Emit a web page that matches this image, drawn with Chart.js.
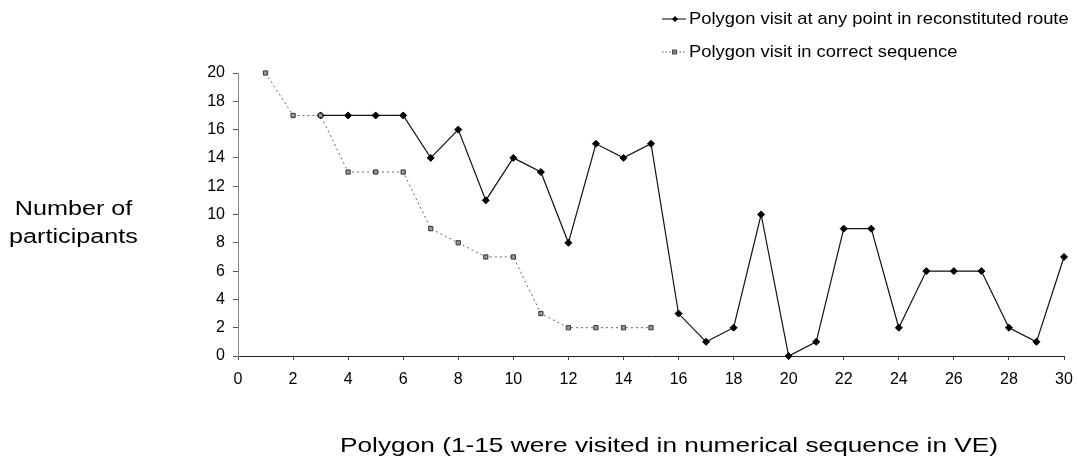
<!DOCTYPE html>
<html><head><meta charset="utf-8">
<script src="https://cdn.jsdelivr.net/npm/chart.js@4.4.1/dist/chart.umd.min.js"></script>
<style>
html,body{margin:0;padding:0;background:#fff;}
#wrap{position:relative;width:1078px;height:466px;font-family:"Liberation Sans",Arial,sans-serif;color:#000;overflow:hidden;}
canvas{position:absolute;left:0;top:0;}
.lbl{position:absolute;white-space:nowrap;transform-origin:0 0;}
.leg{position:absolute;font-size:17px;display:flex;align-items:center;white-space:nowrap;height:20px;}
.leg span{display:inline-block;transform:scaleX(1.08);transform-origin:0 50%;}
</style></head><body>
<div id="wrap">
<canvas id="c" width="1078" height="466"></canvas>
<div class="lbl" style="left:8px;top:194px;width:104px;font-size:20px;line-height:28px;text-align:center;transform:scaleX(1.26);">Number of<br>participants</div>
<div class="lbl" style="left:340px;top:433px;font-size:21px;line-height:24px;transform:scaleX(1.25);">Polygon (1-15 were visited in numerical sequence in VE)</div>
<div class="leg" style="left:662px;top:9px;"><svg width="24" height="20"><line x1="0" y1="10" x2="24" y2="10" stroke="#000" stroke-width="1"/><polygon points="13,7 16,10 13,13 10,10" fill="#000"/></svg><span style="margin-left:3px">Polygon visit at any point in reconstituted route</span></div>
<div class="leg" style="left:662px;top:42px;"><svg width="24" height="20"><line x1="0" y1="10" x2="24" y2="10" stroke="#555" stroke-width="1" stroke-dasharray="1.5,2"/><rect x="10.5" y="8" width="4" height="4" fill="#888" stroke="#333" stroke-width="0.8"/></svg><span style="margin-left:3px">Polygon visit in correct sequence</span></div>
</div>
<script>
const polygons = [1,2,3,4,5,6,7,8,9,10,11,12,13,14,15,16,17,18,19,20,21,22,23,24,25,26,27,28,29,30];
const anyPoint = [null,null,17,17,17,17,14,16,11,14,13,8,15,14,15,3,1,2,10,0,1,9,9,2,6,6,6,2,1,7];
const correctSeq = [20,17,17,13,13,13,9,8,7,7,3,2,2,2,2];
const xTicks = [0,2,4,6,8,10,12,14,16,18,20,22,24,26,28,30];
const yTicks = [0,2,4,6,8,10,12,14,16,18,20];

const toPts = (vals) => vals.map((v,i)=>({x:polygons[i], y:v}));
const fontFam = '"Liberation Sans", Arial, sans-serif';

new Chart(document.getElementById('c'), {
  type: 'line',
  data: {
    datasets: [
      {
        label: 'Polygon visit in correct sequence',
        data: toPts(correctSeq),
        borderColor: '#666',
        borderWidth: 1,
        borderDash: [2,3],
        pointStyle: 'rect',
        pointRadius: 3,
        pointBackgroundColor: '#999',
        pointBorderColor: '#333',
        pointBorderWidth: 1,
        tension: 0,
        clip: false
      },
      {
        label: 'Polygon visit at any point in reconstituted route',
        data: toPts(anyPoint),
        borderColor: '#111',
        borderWidth: 1.2,
        pointStyle: 'rectRot',
        pointRadius: 3.5,
        pointBackgroundColor: '#000',
        pointBorderColor: '#000',
        pointBorderWidth: 1,
        spanGaps: false,
        tension: 0,
        clip: false
      }
    ]
  },
  options: {
    responsive: false,
    animation: false,
    layout: { padding: { left: 188, right: 14, top: 73, bottom: 80 } },
    plugins: { legend: { display: false }, tooltip: { enabled: false } },
    scales: {
      x: {
        type: 'linear', min: 0, max: 30,
        afterBuildTicks: (s) => { s.ticks = xTicks.map(v=>({value:v})); },
        afterFit: (s) => { s.height = 30; s.paddingLeft = 0; s.paddingRight = 0; },
        grid: { drawOnChartArea: false, drawTicks: true, tickLength: 4, color: '#444' },
        border: { display: true, color: '#222', width: 1 },
        ticks: { color: '#000', font: { family: fontFam, size: 16 }, padding: 10, maxRotation: 0 }
      },
      y: {
        min: 0, max: 20,
        afterBuildTicks: (s) => { s.ticks = yTicks.map(v=>({value:v})); },
        afterFit: (s) => { s.width = 50; s.paddingTop = 0; s.paddingBottom = 0; },
        grid: { drawOnChartArea: false, drawTicks: true, tickLength: 5, color: '#555' },
        border: { display: true, color: '#888', width: 1, dash: [2,4] },
        ticks: { color: '#000', font: { family: fontFam, size: 16 }, padding: 8 }
      }
    }
  }
});
</script>
</body></html>
